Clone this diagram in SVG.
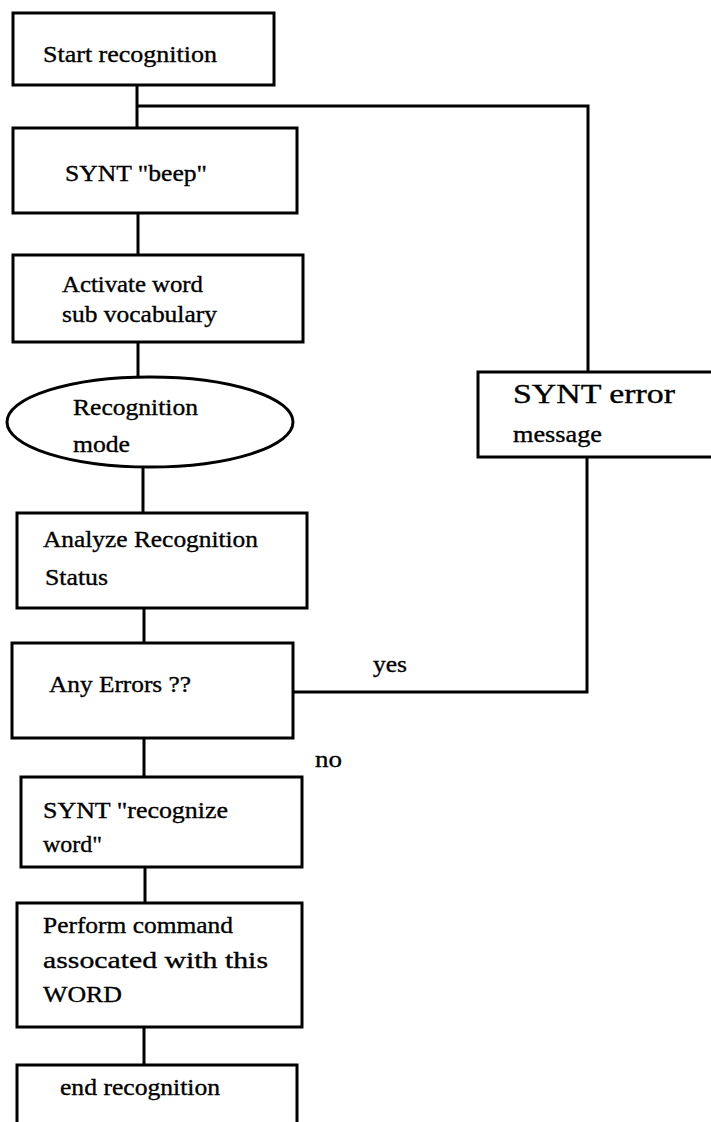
<svg xmlns="http://www.w3.org/2000/svg" width="711" height="1122" viewBox="0 0 711 1122">
  <style>
    .box { fill: #ffffff; stroke: #000000; stroke-width: 3; }
    .wire { fill: none; stroke: #000000; stroke-width: 3; stroke-linejoin: miter; }
    text { font-family: "Liberation Serif", "Times New Roman", serif; font-size: 24px; fill: #000000; stroke: #000000; stroke-width: 0.35; }
    .big { font-size: 27px; }
  </style>
  <rect x="0" y="0" width="711" height="1122" fill="#ffffff"/>

  <!-- connectors -->
  <g id="connectors">
    <path class="wire" d="M137,85 V128"/>
    <path class="wire" d="M137,106 H588 V372"/>
    <path class="wire" d="M138,213 V255"/>
    <path class="wire" d="M138,342 V377"/>
    <path class="wire" d="M143,467 V513"/>
    <path class="wire" d="M144,608 V643"/>
    <path class="wire" d="M293,692 H587 V457"/>
    <path class="wire" d="M144,738 V777"/>
    <path class="wire" d="M145,867 V903"/>
    <path class="wire" d="M144,1027 V1065"/>
  </g>

  <g id="start">
    <rect class="box" x="13" y="13" width="261" height="72"/>
    <text x="43" y="62" textLength="174" lengthAdjust="spacingAndGlyphs">Start recognition</text>
  </g>

  <g id="beep">
    <rect class="box" x="13" y="128" width="284" height="85"/>
    <text x="65" y="181" textLength="142" lengthAdjust="spacingAndGlyphs">SYNT "beep"</text>
  </g>

  <g id="activate">
    <rect class="box" x="13" y="255" width="290" height="87"/>
    <text x="62" y="292" textLength="141" lengthAdjust="spacingAndGlyphs">Activate word</text>
    <text x="62" y="322" textLength="155" lengthAdjust="spacingAndGlyphs">sub vocabulary</text>
  </g>

  <g id="mode">
    <ellipse class="box" cx="150" cy="422" rx="143" ry="45"/>
    <text x="73" y="415" textLength="125" lengthAdjust="spacingAndGlyphs">Recognition</text>
    <text x="73" y="452" textLength="57" lengthAdjust="spacingAndGlyphs">mode</text>
  </g>

  <g id="analyze">
    <rect class="box" x="17" y="513" width="290" height="95"/>
    <text x="43" y="547" textLength="215" lengthAdjust="spacingAndGlyphs">Analyze Recognition</text>
    <text x="45" y="585" textLength="63" lengthAdjust="spacingAndGlyphs">Status</text>
  </g>

  <g id="errors">
    <rect class="box" x="12" y="643" width="281" height="95"/>
    <text x="49" y="692" textLength="142" lengthAdjust="spacingAndGlyphs">Any Errors ??</text>
  </g>

  <g id="error-message">
    <rect class="box" x="478" y="372" width="236" height="85"/>
    <text class="big" x="513" y="403" textLength="162" lengthAdjust="spacingAndGlyphs">SYNT error</text>
    <text x="513" y="442" textLength="89" lengthAdjust="spacingAndGlyphs">message</text>
  </g>

  <g id="recognize">
    <rect class="box" x="21" y="777" width="281" height="90"/>
    <text x="43" y="818" textLength="185" lengthAdjust="spacingAndGlyphs">SYNT "recognize</text>
    <text x="43" y="852" textLength="59" lengthAdjust="spacingAndGlyphs">word"</text>
  </g>

  <g id="perform">
    <rect class="box" x="17" y="903" width="285" height="124"/>
    <text x="43" y="933" textLength="190" lengthAdjust="spacingAndGlyphs">Perform command</text>
    <text x="43" y="968" textLength="225" lengthAdjust="spacingAndGlyphs">assocated with this</text>
    <text x="43" y="1002" textLength="79" lengthAdjust="spacingAndGlyphs">WORD</text>
  </g>

  <g id="end">
    <rect class="box" x="17" y="1065" width="280" height="70"/>
    <text x="60" y="1095" textLength="160" lengthAdjust="spacingAndGlyphs">end recognition</text>
  </g>

  <!-- branch labels -->
  <g id="labels">
    <text x="373" y="672" textLength="34" lengthAdjust="spacingAndGlyphs">yes</text>
    <text x="315" y="767" textLength="27" lengthAdjust="spacingAndGlyphs">no</text>
  </g>
</svg>
